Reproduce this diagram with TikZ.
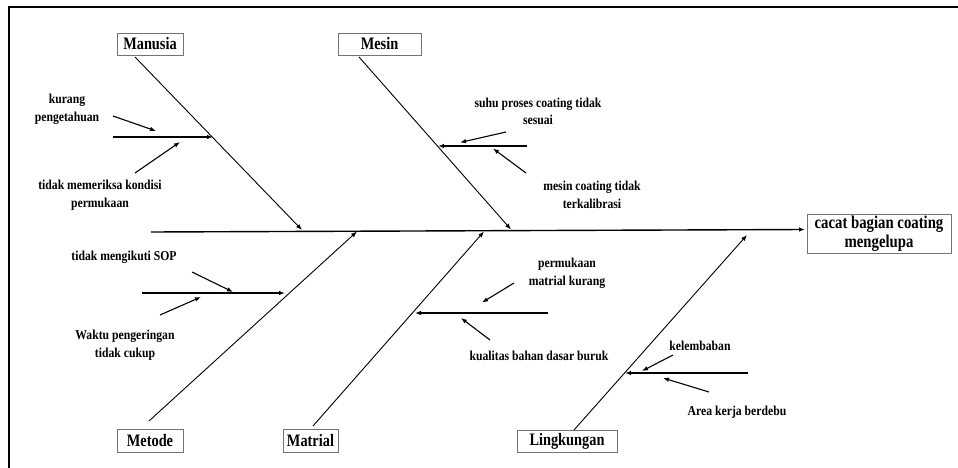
\documentclass[tikz,border=0pt]{standalone}
\usepackage{fontspec}
\setmainfont{Liberation Serif}
\newfontfamily\boxfont[FakeStretch=0.82]{Liberation Serif}
\newfontfamily\lblfont[FakeStretch=0.86]{Liberation Serif}
\usetikzlibrary{arrows.meta}
\begin{document}
\begin{tikzpicture}[x=1pt,y=-1pt,
  catbox/.style={draw=black!55, line width=0.8pt, inner sep=0pt,
    font=\boxfont\bfseries\fontsize{17.5}{19}\selectfont},
  lbl/.style={font=\lblfont\bfseries\fontsize{13.6}{17.5}\selectfont, align=center, inner sep=0pt},
  bone/.style={line width=0.9pt, -{Latex[length=6pt,width=4.5pt]}},
  subbone/.style={line width=1.2pt, -{Latex[length=6pt,width=4.5pt]}},
  cause/.style={line width=1.1pt, -{Latex[length=6pt,width=4.5pt]}}]
\useasboundingbox (0,0) rectangle (958,468);
% frame
\draw[line width=2pt] (958,7) -- (9,7) -- (9,468);

% category boxes
\node[catbox, minimum width=66pt, minimum height=22pt] (manusia) at (150,44) {Manusia};
\node[catbox, minimum width=83pt, minimum height=22pt] (mesin) at (379.5,44) {Mesin};
\node[catbox, minimum width=66pt, minimum height=23pt] (metode) at (150,440.5) {Metode};
\node[catbox, minimum width=55pt, minimum height=23pt] (matrial) at (310.5,440.5) {Matrial};
\node[catbox, minimum width=100pt, minimum height=22pt] (lingkungan) at (567,441) {Lingkungan};
\node[catbox, minimum width=144pt, minimum height=39pt, align=center,
  font=\boxfont\bfseries\fontsize{18}{19}\selectfont] (effect) at (879,233.5) {cacat bagian coating\\mengelupa};

% spine
\coordinate (tail) at (151,232);
\coordinate (head) at (805,229.5);
\draw[line width=1.4pt, -{Latex[length=6pt,width=4.5pt]}] (tail) -- (head);

% main bones
\coordinate (manS) at (135,57);   \coordinate (manE) at (302,230);
\coordinate (mesS) at (359,57);   \coordinate (mesE) at (511,229.5);
\coordinate (metS) at (149,421);  \coordinate (metE) at (357,231.5);
\coordinate (matS) at (313,426);  \coordinate (matE) at (484,231.5);
\coordinate (linS) at (574,430);  \coordinate (linE) at (747,235);
\draw[bone] (manS) -- (manE);
\draw[bone] (mesS) -- (mesE);
\draw[bone] (metS) -- (metE);
\draw[bone] (matS) -- (matE);
\draw[bone] (linS) -- (linE);

% sub bones
\coordinate (s1a) at (113,137); \coordinate (s1b) at (213,137);
\coordinate (s2a) at (527,146); \coordinate (s2b) at (438,146);
\coordinate (s3a) at (142,293); \coordinate (s3b) at (285,293);
\coordinate (s4a) at (548,313); \coordinate (s4b) at (415,313);
\coordinate (s5a) at (748,373); \coordinate (s5b) at (625,373);
\draw[subbone] (s1a) -- (s1b);
\draw[subbone] (s2a) -- (s2b);
\draw[subbone] (s3a) -- (s3b);
\draw[subbone] (s4a) -- (s4b);
\draw[subbone] (s5a) -- (s5b);

% labels
\node[lbl] (l1) at (67,109.5) {kurang\\pengetahuan};
\node[lbl] (l2) at (100,195) {tidak memeriksa kondisi\\permukaan};
\node[lbl] (l3) at (538,111.5) {suhu proses coating tidak\\sesuai};
\node[lbl] (l4) at (592,195) {mesin coating tidak\\terkalibrasi};
\node[lbl] (l5) at (124,257) {tidak mengikuti SOP};
\node[lbl] (l6) at (125,345) {Waktu pengeringan\\tidak cukup};
\node[lbl] (l7) at (567,273.5) {permukaan\\matrial kurang};
\node[lbl] (l8) at (539,356) {kualitas bahan dasar buruk};
\node[lbl] (l9) at (700,346) {kelembaban};
\node[lbl] (l10) at (737,412) {Area kerja berdebu};

% cause arrows
\coordinate (a1s) at (113,116); \coordinate (a1e) at (156,131);
\coordinate (a2s) at (135,173); \coordinate (a2e) at (180,142);
\coordinate (a3s) at (506,132); \coordinate (a3e) at (460,142.5);
\coordinate (a4s) at (526,173); \coordinate (a4e) at (493,148.5);
\coordinate (a5s) at (192,272); \coordinate (a5e) at (233,292);
\coordinate (a6s) at (160,315); \coordinate (a6e) at (201,297);
\coordinate (a7s) at (514,283); \coordinate (a7e) at (482,302.5);
\coordinate (a8s) at (490,340); \coordinate (a8e) at (461,318);
\coordinate (a9s) at (673,355); \coordinate (a9e) at (642,371);
\coordinate (a10s) at (709,392); \coordinate (a10e) at (663,378);
\foreach \i in {1,...,10} { \draw[cause] (a\i s) -- (a\i e); }
\end{tikzpicture}
\end{document}
